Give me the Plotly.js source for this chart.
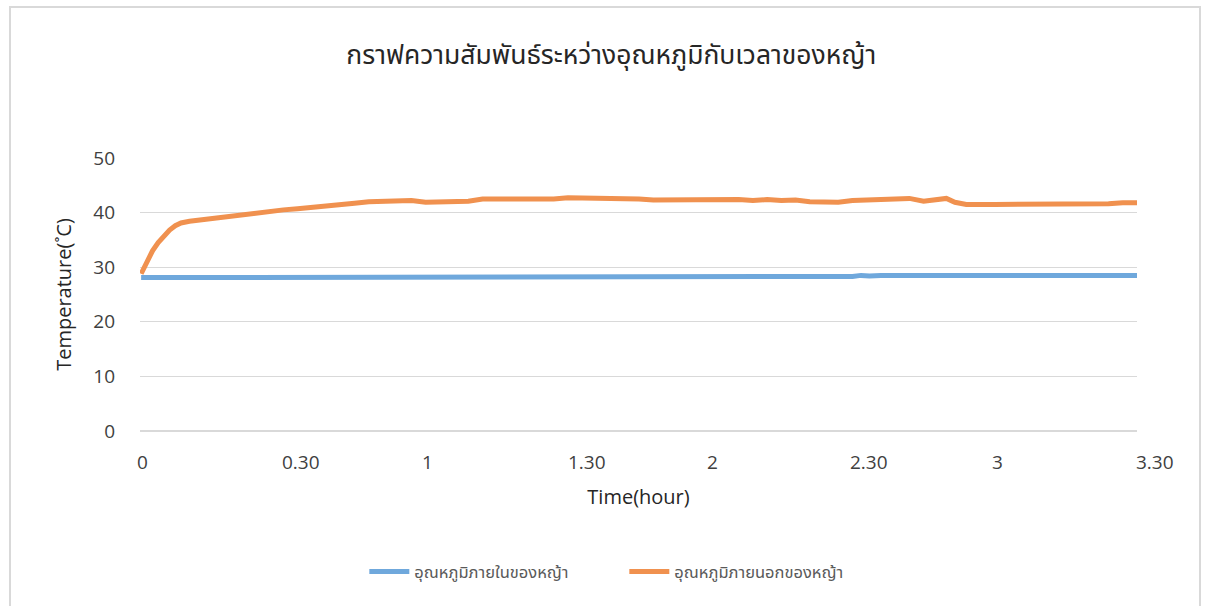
<!DOCTYPE html>
<html>
<head>
<meta charset="utf-8">
<script src="https://cdn.plot.ly/plotly-3.0.1.min.js"></script>
<style>
  html, body { margin: 0; padding: 0; background: #fff; }
  #wrap { position: relative; width: 1208px; height: 606px; overflow: hidden; }
  #chart { width: 1208px; height: 606px; }
  #frame { position: absolute; left: 9px; top: 6px; width: 1188px; height: 640px;
           border: 2px solid #d9d9d9; pointer-events: none; }
</style>
</head>
<body>
<div id="wrap"><div id="chart"></div><div id="frame"></div></div>
<script>
// Time in hours
const innerTime = [0, 0.05, 0.10, 0.15, 0.18, 0.5, 1.0, 1.5, 2.0, 2.3, 2.5, 2.53, 2.56, 2.6, 3.0, 3.5];
const innerTemp = [28.1, 28.1, 28.1, 28.2, 28.3, 28.3, 28.3, 28.3, 28.3, 28.3, 28.3, 28.5, 28.4, 28.5, 28.5, 28.5];

const outerTime = [0, 0.02, 0.04, 0.06, 0.08, 0.10, 0.12, 0.14, 0.17, 0.2, 0.25, 0.3, 0.35, 0.4, 0.45, 0.5,
  0.55, 0.6, 0.65, 0.7, 0.75, 0.8, 0.85, 0.9, 0.95, 1.0, 1.05, 1.1, 1.15, 1.2, 1.25, 1.3, 1.35, 1.4, 1.45,
  1.5, 1.55, 1.6, 1.65, 1.7, 1.75, 1.8, 1.85, 1.9, 1.95, 2.0, 2.05, 2.1, 2.15, 2.2, 2.25, 2.3, 2.35, 2.4,
  2.45, 2.5, 2.55, 2.6, 2.65, 2.7, 2.75, 2.8, 2.83, 2.86, 2.9, 3.0, 3.1, 3.2, 3.3, 3.35, 3.4, 3.45, 3.5];
const outerTemp = [28.8, 31.0, 33.0, 34.5, 35.8, 36.8, 37.6, 38.1, 38.4, 38.6, 38.8, 39.1, 39.5, 40.0, 40.3, 40.5,
  40.7, 40.9, 41.1, 41.4, 41.7, 42.0, 42.1, 42.3, 42.2, 41.9, 41.9, 42.0, 42.1, 42.5, 42.5, 42.6, 42.4, 42.4, 42.5,
  42.7, 42.7, 42.6, 42.5, 42.5, 42.5, 42.3, 42.3, 42.5, 42.5, 42.4, 42.3, 42.4, 42.2, 42.4, 42.2, 42.3, 42.0, 41.9,
  41.9, 42.2, 42.3, 42.2, 42.5, 42.6, 42.1, 42.3, 42.6, 41.9, 41.5, 41.5, 41.5, 41.5, 41.5, 41.5, 41.6, 41.8, 41.8];

const seriesNames = ["อุณหภูมิภายในของหญ้า", "อุณหภูมิภายนอกของหญ้า"];
const xTickLabels = ["0", "0.30", "1", "1.30", "2", "2.30", "3", "3.30"];
// label centres as fractions of the plot width
const xTickPos = [0.003, 0.161, 0.288, 0.448, 0.574, 0.731, 0.860, 1.018];
const yTicks = [0, 10, 20, 30, 40, 50];

const tickFont = {family: "Open Sans, sans-serif", size: 19, color: "#404040"};
const thaiFont = "Noto Sans Thai, Loma, Garuda, Noto Sans, DejaVu Sans, sans-serif";

const traces = [
  {x: innerTime, y: innerTemp, name: seriesNames[0], type: "scatter", mode: "lines",
   line: {color: "#6fa8dc", width: 5}},
  {x: outerTime, y: outerTemp, name: seriesNames[1], type: "scatter", mode: "lines",
   line: {color: "#f0914f", width: 5}}
];

const annotations = xTickLabels.map((t, i) => ({
  x: xTickPos[i], y: -0.115, xref: "paper", yref: "paper", text: t, showarrow: false,
  xanchor: "center", yanchor: "middle", font: tickFont
}));

const layout = {
  width: 1208, height: 606,
  margin: {l: 140, r: 71, t: 158, b: 175},
  paper_bgcolor: "#ffffff", plot_bgcolor: "#ffffff",
  title: {text: "กราฟความสัมพันธ์ระหว่างอุณหภูมิกับเวลาของหญ้า", x: 0.506, xanchor: "center",
          y: 0.909, yref: "container", yanchor: "middle",
          font: {family: thaiFont, size: 26.5, color: "#262626"}},
  xaxis: {range: [-0.004, 3.5], showticklabels: false, showgrid: false, zeroline: false,
          showline: false, ticks: "",
          title: {text: "Time(hour)", standoff: 58, font: {family: "Open Sans, sans-serif", size: 20, color: "#262626"}}},
  yaxis: {range: [0, 50], tickvals: yTicks, showgrid: true, gridcolor: "#d9d9d9", gridwidth: 1.3,
          zeroline: true, zerolinecolor: "#d9d9d9", zerolinewidth: 1.3,
          showline: false, ticks: "", ticklabelstandoff: 24, tickfont: tickFont,
          title: {text: "Temperature(˚C)", standoff: 16, font: {family: "Open Sans, sans-serif", size: 20, color: "#262626"}}},
  showlegend: true,
  legend: {orientation: "h", x: 0.225, xanchor: "left", y: -0.516, yanchor: "middle",
           entrywidth: 205, entrywidthmode: "pixels",
           font: {family: thaiFont, size: 16.5, color: "#595959"}, itemwidth: 40, traceorder: "normal"},
  annotations: annotations
};

Plotly.newPlot("chart", traces, layout, {displayModeBar: false, staticPlot: true});
</script>
</body>
</html>
